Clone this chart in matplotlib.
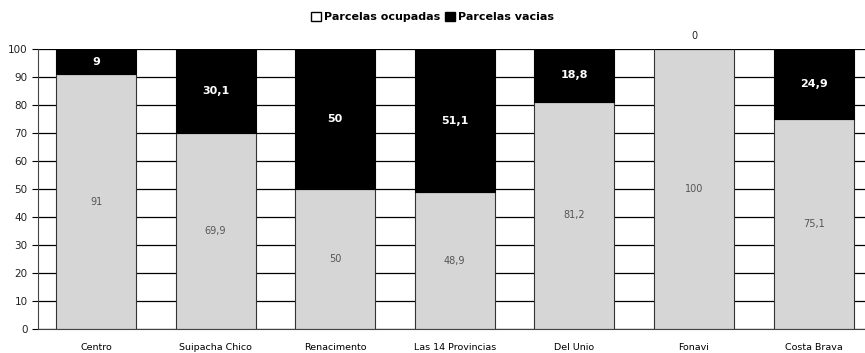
import matplotlib.pyplot as plt
from matplotlib.patches import Patch

barrios = ['Centro', 'Suipacha Chico', 'Renacimento', 'Las 14 Provincias',
           'Del Unio', 'Fonavi', 'Costa Brava']
ocupadas = [91, 69.9, 50, 48.9, 81.2, 100, 75.1]
vacias = [9, 30.1, 50, 51.1, 18.8, 0, 24.9]

def fmt(v):
    return ('%g' % v).replace('.', ',')

fig = plt.figure(figsize=(8.65, 3.53), dpi=100)
ax = fig.add_axes([38 / 865, 24 / 353, 827 / 865, 280 / 353])

x = range(len(barrios))
ax.set_axisbelow(True)
ax.yaxis.grid(True, color='black', linewidth=0.9)
ax.bar(x, ocupadas, width=0.67, color='#d6d6d6', edgecolor='#333333', linewidth=0.8)
ax.bar(x, vacias, width=0.67, bottom=ocupadas, color='black', edgecolor='black', linewidth=0.8)

for i in x:
    ax.text(i, ocupadas[i] / 2, fmt(ocupadas[i]), ha='center', va='center',
            fontsize=7, color='#555555')
    if vacias[i] > 0:
        ax.text(i, ocupadas[i] + vacias[i] / 2, fmt(vacias[i]), ha='center', va='center',
                fontsize=8, color='white', fontweight='bold')
    else:
        ax.text(i, 104.5, fmt(vacias[i]), ha='center', va='center', fontsize=7,
                color='#222222', clip_on=False)

ax.set_ylim(0, 100)
ax.set_xlim(-0.485, 6.43)
ax.set_yticks(range(0, 101, 10))
ax.tick_params(axis='y', labelsize=7.5, length=4, direction='out', labelcolor='#222222')
ax.tick_params(axis='x', length=0, labelsize=6.8, pad=10)
ax.set_xticks(list(x))
ax.set_xticklabels(barrios)
for s in ['top', 'right']:
    ax.spines[s].set_visible(False)
ax.spines['left'].set_color('#444444')
ax.spines['bottom'].set_color('#444444')

handles = [Patch(facecolor='white', edgecolor='black', label='Parcelas ocupadas'),
           Patch(facecolor='black', edgecolor='black', label='Parcelas vacias')]
fig.legend(handles=handles, loc='center', bbox_to_anchor=(0.5, 1 - 17 / 353),
           ncol=2, frameon=False, handlelength=0.9, handleheight=0.9,
           handletextpad=0.2, columnspacing=0.5, prop={'weight': 'bold', 'size': 8})

fig.savefig('out.png', dpi=100)
